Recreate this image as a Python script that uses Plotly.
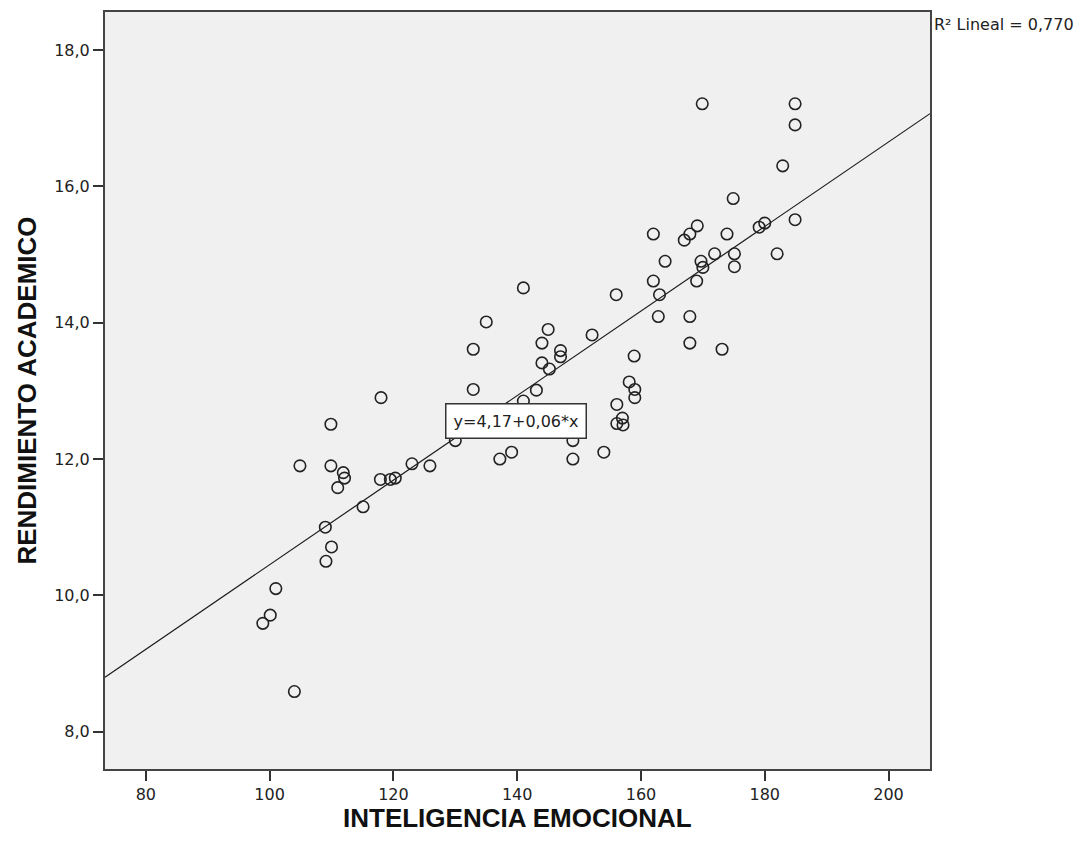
import plotly.graph_objects as go
import numpy as np

# Data
inteligencia_emocional = [
    169.9, 184.9, 184.9, 182.9, 174.9, 169.1, 167.9, 167.0, 162.0, 173.9,
    179.1, 180.0, 184.9, 163.9, 171.9, 175.1, 175.1, 169.7, 170.0, 162.0,
    169.0, 163.0, 156.0, 182.0, 162.8, 167.9, 167.9, 173.1, 158.9, 158.1,
    141.0, 135.0, 132.9, 145.0, 144.0, 147.0, 147.0, 144.0, 145.2, 132.9,
    143.1, 152.1, 159.0, 159.0, 156.1, 157.0, 156.1, 157.1, 141.0, 149.0,
    149.0, 154.0, 139.1, 137.2, 130.0, 123.0, 125.9, 118.0, 109.9, 104.9,
    109.9, 111.9, 112.1, 111.0, 117.9, 119.5, 120.3, 115.1, 109.0, 110.0,
    109.1, 101.0, 100.1, 98.9, 104.0,
]
rendimiento_academico = [
    17.21, 17.21, 16.90, 16.30, 15.82, 15.42, 15.30, 15.21, 15.30, 15.30,
    15.40, 15.46, 15.51, 14.90, 15.01, 15.01, 14.82, 14.90, 14.81, 14.61,
    14.61, 14.41, 14.41, 15.01, 14.09, 14.09, 13.70, 13.61, 13.51, 13.13,
    14.51, 14.01, 13.61, 13.90, 13.70, 13.59, 13.50, 13.41, 13.32, 13.02,
    13.01, 13.82, 13.02, 12.90, 12.80, 12.60, 12.52, 12.50, 12.85, 12.27,
    12.00, 12.10, 12.10, 12.00, 12.27, 11.93, 11.90, 12.90, 12.51, 11.90,
    11.90, 11.80, 11.72, 11.58, 11.70, 11.70, 11.72, 11.30, 11.00, 10.71,
    10.50, 10.10, 9.71, 9.59, 8.59,
]

# Linear fit line as drawn in the reference
fit_intercept = 4.25
fit_slope = 0.062
fit_label = "y=4,17+0,06*x"
r2_label = "R² Lineal = 0,770"
x_title = "INTELIGENCIA EMOCIONAL"
y_title = "RENDIMIENTO ACADEMICO"

x_tickvals = [80, 100, 120, 140, 160, 180, 200]
x_ticktext = ["80", "100", "120", "140", "160", "180", "200"]
y_tickvals = [8, 10, 12, 14, 16, 18]
y_ticktext = ["8,0", "10,0", "12,0", "14,0", "16,0", "18,0"]

x_range = [73.4, 206.7]
y_range = [7.454, 18.556]

fit_x = np.array(x_range)
fit_y = fit_intercept + fit_slope * fit_x

fig = go.Figure()
fig.add_trace(go.Scatter(
    x=fit_x, y=fit_y, mode="lines",
    line=dict(color="#1a1a1a", width=1.2),
    hoverinfo="skip", showlegend=False,
))
fig.add_trace(go.Scatter(
    x=inteligencia_emocional, y=rendimiento_academico, mode="markers",
    marker=dict(symbol="circle-open", size=11.5, color="#222222",
                line=dict(width=1.6, color="#222222")),
    showlegend=False,
))

axis_common = dict(
    showgrid=False, zeroline=False, showline=True, mirror=True,
    linecolor="#444444", linewidth=2, ticks="outside", ticklen=10,
    tickwidth=1.5, tickcolor="#333333",
    tickfont=dict(family="DejaVu Sans", size=16, color="#222222"),
)

title_font = dict(family="Liberation Sans", size=26, color="#111111", weight="bold")

# page body has an 8px margin, so the figure is sized/offset to fit the window
fig.update_layout(
    width=1073, height=841,
    margin=dict(l=97, r=151, t=2, b=80),
    paper_bgcolor="white", plot_bgcolor="#f0f0f0",
    xaxis=dict(range=x_range, tickvals=x_tickvals, ticktext=x_ticktext,
               **axis_common),
    yaxis=dict(range=y_range, tickvals=y_tickvals, ticktext=y_ticktext,
               title=dict(text=y_title, standoff=10, font=title_font),
               **axis_common),
    annotations=[
        dict(x=0.5, y=-0.065, xref="paper", yref="paper", text=x_title,
             showarrow=False, xanchor="center", yanchor="middle", font=title_font),
        dict(x=139.8, y=12.56, xref="x", yref="y", text=fit_label, showarrow=False,
             font=dict(family="DejaVu Sans", size=16, color="#222222"),
             bgcolor="white", bordercolor="#333333", borderwidth=1.5, borderpad=7),
        dict(x=1.002, y=18.38, xref="paper", yref="y", text=r2_label, showarrow=False,
             xanchor="left", yanchor="middle",
             font=dict(family="DejaVu Sans", size=16, color="#222222")),
    ],
)

fig.write_html("out.html")
